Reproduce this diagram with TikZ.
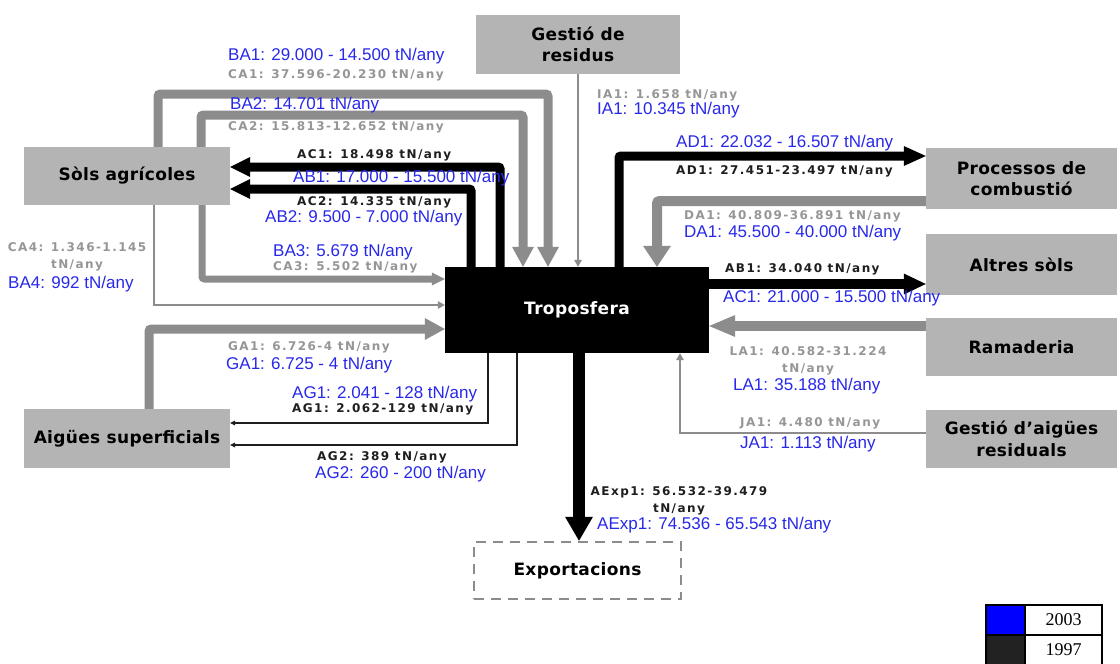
\documentclass[tikz,border=0pt]{standalone}
\usepackage{fontspec}
\setmainfont{DejaVu Sans}
\newfontfamily\boxfont[LetterSpace=2]{DejaVu Sans}
\newfontfamily\pixfont[LetterSpace=12]{DejaVu Sans}
\newfontfamily\bluefont{Liberation Sans}
\newfontfamily\legfont{Liberation Serif}
\usetikzlibrary{arrows.meta}

\definecolor{boxgray}{RGB}{180,180,180}
\definecolor{flowgray}{RGB}{140,140,140}
\definecolor{labgray}{RGB}{150,150,150}
\definecolor{labblue}{RGB}{40,40,235}
\definecolor{labdark}{RGB}{30,30,30}
\definecolor{darkcell}{RGB}{34,34,34}
\definecolor{dashgray}{RGB}{140,140,140}

\tikzset{
  boxtext/.style={font=\boxfont\bfseries\fontsize{17}{21.5}\selectfont},
  box/.style={fill=boxgray, inner sep=0pt, align=center, boxtext},
  bluelab/.style={text=labblue, inner sep=0pt,
    font=\bluefont\fontsize{17}{19}\selectfont},
  graylab/.style={text=labgray, inner sep=0pt, align=center,
    font=\pixfont\bfseries\fontsize{12}{17}\selectfont},
  darklab/.style={graylab, text=labdark},
  gthick/.style={draw=flowgray, line width=9pt, rounded corners=2.5pt,
    -{Triangle[length=20pt,width=22pt,line width=0pt]}},
  bthick/.style={draw=black, line width=9pt, rounded corners=2pt,
    -{Triangle[length=20pt,width=20pt,line width=0pt]}},
  gthin/.style={draw=flowgray, line width=2.2pt,
    -{Triangle[length=7pt,width=8pt,line width=0pt]}},
  bthin/.style={draw=labdark, line width=1.8pt,
    -{Triangle[length=5pt,width=5pt,line width=0pt]}},
  cell/.style={draw=black, line width=1.8pt, inner sep=0pt,
    minimum height=30pt, font=\legfont\fontsize{18}{18}\selectfont}
}

\begin{document}
\begin{tikzpicture}[x=1pt,y=-1pt]
\useasboundingbox (0,0) rectangle (1120,664);
\fill[white] (0,0) rectangle (1120,664);

% compartments
\node[box, minimum width=204pt, minimum height=59pt] (gest) at (578,44.5) {Gestió de\\residus};
\node[box, minimum width=206pt, minimum height=58pt] (sols) at (127,176) {Sòls agrícoles};
\node[box, minimum width=206pt, minimum height=59pt] (aig) at (127,438.5) {Aigües superficials};
\node[fill=black, text=white, inner sep=0pt, minimum width=264pt, minimum height=86pt,
  boxtext] (tropo) at (577,310) {Troposfera};
\node[box, minimum width=191pt, minimum height=61pt] (proc) at (1021.5,178.5) {Processos de\\combustió};
\node[box, minimum width=191pt, minimum height=61pt] (altres) at (1021.5,264.5) {Altres sòls};
\node[box, minimum width=191pt, minimum height=58pt] (ram) at (1021.5,347) {Ramaderia};
\node[box, minimum width=191pt, minimum height=58pt] (gaig) at (1021.5,439) {Gestió d’aigües\\residuals};
\node[draw=dashgray, line width=2.5pt, dash pattern=on 10pt off 7pt, inner sep=0pt,
  minimum width=207pt, minimum height=57pt, boxtext] (exp) at (577.5,570.5) {Exportacions};

% routing points
\coordinate (xba4) at (154,0);
\coordinate (xba1) at (158,0);
\coordinate (xba2) at (201,0);
\coordinate (xba3) at (202,0);
\coordinate (xga1) at (149,0);
\coordinate (xac2) at (471,0);
\coordinate (xac1) at (500,0);
\coordinate (xag1) at (488,0);
\coordinate (xag2) at (517,0);
\coordinate (xia1) at (578,0);
\coordinate (xexp) at (579,0);
\coordinate (xad1) at (619,0);
\coordinate (xda1) at (657,0);
\coordinate (xja1) at (680,0);
\coordinate (cba1) at (548,94);
\coordinate (cba2) at (523,115);
\coordinate (yac1) at (0,167);
\coordinate (yac2) at (0,189);
\coordinate (yba3) at (0,279);
\coordinate (yba4) at (0,305);
\coordinate (yga1) at (0,329);
\coordinate (yag1) at (0,423);
\coordinate (yag2) at (0,445);
\coordinate (yad1) at (0,156);
\coordinate (yda1) at (0,201);
\coordinate (yab1) at (0,284);
\coordinate (yla1) at (0,326);
\coordinate (yja1) at (0,433);

% flows into the troposphere (grey)
\draw[gthick] (sols.north -| xba1) |- (cba1) -- (tropo.north -| cba1);
\draw[gthick] (sols.north -| xba2) |- (cba2) -- (tropo.north -| cba2);
\draw[gthick, line width=7pt, -{Triangle[length=13pt,width=13pt,line width=0pt]}]
  (sols.south -| xba3) |- (tropo.west |- yba3);
\draw[gthin] (sols.south -| xba4) |- (tropo.west |- yba4);
\draw[gthick] (aig.north -| xga1) |- (tropo.west |- yga1);
\draw[gthin] (gest.south -| xia1) -- (tropo.north -| xia1);
\draw[gthick, line width=10pt, -{Triangle[length=21pt,width=28pt,line width=0pt]}]
  (proc.west |- yda1) -| (tropo.north -| xda1);
\draw[gthick, line width=10pt, -{Triangle[length=26pt,width=22pt,line width=0pt]}]
  (ram.west |- yla1) -- (tropo.east |- yla1);
\draw[gthin, line width=2.6pt] (gaig.west |- yja1) -| (tropo.south -| xja1);

% flows out of the troposphere (black)
\draw[bthick] (tropo.north -| xac1) |- (sols.east |- yac1);
\draw[bthick] (tropo.north -| xac2) |- (sols.east |- yac2);
\draw[bthick, -{Triangle[length=22pt,width=20pt,line width=0pt]}]
  (tropo.north -| xad1) |- (proc.west |- yad1);
\draw[bthick, line width=10pt, -{Triangle[length=22pt,width=21pt,line width=0pt]}]
  (tropo.east |- yab1) -- (altres.west |- yab1);
\draw[bthick, line width=12pt, -{Triangle[length=24pt,width=28pt,line width=0pt]}]
  (tropo.south -| xexp) -- (exp.north -| xexp);
\draw[bthin] (tropo.south -| xag1) |- (aig.east |- yag1);
\draw[bthin] (tropo.south -| xag2) |- (aig.east |- yag2);

% flow labels
\node[bluelab, anchor=west] (tBA1) at (228,56) {BA1: 29.000 - 14.500 tN/any};
\node[graylab, anchor=west] (tCA1) at (228,75) {CA1: 37.596-20.230 tN/any};
\node[bluelab, anchor=west] (tBA2) at (230,105) {BA2: 14.701 tN/any};
\node[graylab, anchor=west] (tCA2) at (228,127) {CA2: 15.813-12.652 tN/any};
\node[darklab, anchor=west] (tAC1) at (297,155) {AC1: 18.498 tN/any};
\node[bluelab, anchor=west] (tAB1) at (293,178) {AB1: 17.000 - 15.500 tN/any};
\node[darklab, anchor=west] (tAC2) at (297,202) {AC2: 14.335 tN/any};
\node[bluelab, anchor=west] (tAB2) at (265,218) {AB2: 9.500 - 7.000 tN/any};
\node[bluelab, anchor=west] (tBA3) at (273,252) {BA3: 5.679 tN/any};
\node[graylab, anchor=west] (tCA3) at (273,267) {CA3: 5.502 tN/any};
\node[graylab] (tCA4) at (77,257) {CA4: 1.346-1.145\\tN/any};
\node[bluelab, anchor=west] (tBA4) at (8,284) {BA4: 992 tN/any};
\node[graylab, anchor=west] (tGA1g) at (228,347) {GA1: 6.726-4 tN/any};
\node[bluelab, anchor=west] (tGA1b) at (226,365) {GA1: 6.725 - 4 tN/any};
\node[bluelab, anchor=west] (tAG1b) at (292,394) {AG1: 2.041 - 128 tN/any};
\node[darklab, anchor=west] (tAG1d) at (292,409) {AG1: 2.062-129 tN/any};
\node[darklab, anchor=west] (tAG2d) at (317,457) {AG2: 389 tN/any};
\node[bluelab, anchor=west] (tAG2b) at (315,474) {AG2: 260 - 200 tN/any};
\node[graylab, anchor=west] (tIA1g) at (597,95) {IA1: 1.658 tN/any};
\node[bluelab, anchor=west] (tIA1b) at (597,110) {IA1: 10.345 tN/any};
\node[bluelab, anchor=west] (tAD1b) at (676,143) {AD1: 22.032 - 16.507 tN/any};
\node[darklab, anchor=west] (tAD1d) at (676,171) {AD1: 27.451-23.497 tN/any};
\node[graylab, anchor=west] (tDA1g) at (684,216) {DA1: 40.809-36.891 tN/any};
\node[bluelab, anchor=west] (tDA1b) at (684,233) {DA1: 45.500 - 40.000 tN/any};
\node[darklab, anchor=west] (tAB1d) at (725,269) {AB1: 34.040 tN/any};
\node[bluelab, anchor=west] (tAC1b) at (723,298) {AC1: 21.000 - 15.500 tN/any};
\node[graylab] (tLA1g) at (808,361) {LA1: 40.582-31.224\\tN/any};
\node[bluelab, anchor=west] (tLA1b) at (733,386) {LA1: 35.188 tN/any};
\node[graylab, anchor=west] (tJA1g) at (740,423) {JA1: 4.480 tN/any};
\node[bluelab, anchor=west] (tJA1b) at (740,444) {JA1: 1.113 tN/any};
\node[darklab] (tEx1d) at (679,501) {AExp1: 56.532-39.479\\tN/any};
\node[bluelab, anchor=west] (tEx1b) at (597,525) {AExp1: 74.536 - 65.543 tN/any};

% year key
\node[cell, fill=blue, minimum width=39pt] (lgb) at (1005.5,620) {};
\node[cell, minimum width=77pt] (lgt1) at (1063.5,620) {2003};
\node[cell, fill=darkcell, minimum width=39pt] (lgd) at (1005.5,650) {};
\node[cell, minimum width=77pt] (lgt2) at (1063.5,650) {1997};
\end{tikzpicture}
\end{document}
